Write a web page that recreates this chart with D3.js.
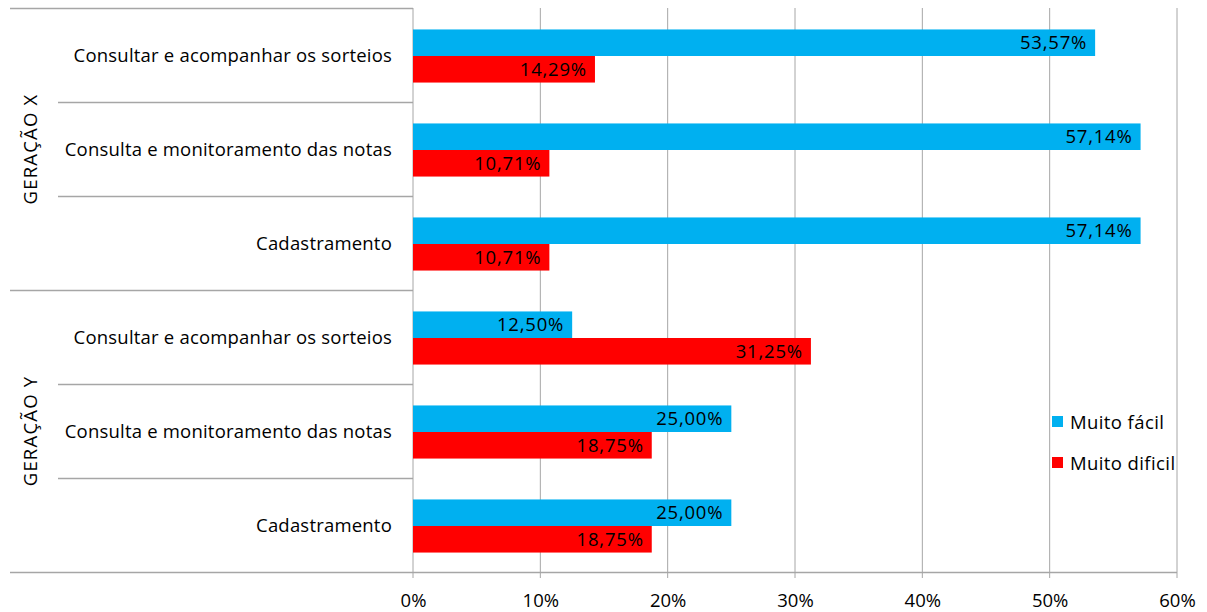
<!DOCTYPE html>
<html>
<head>
<meta charset="utf-8">
<script src="https://cdn.jsdelivr.net/npm/d3@7"></script>
<style>
  body { margin: 0; background: #fff; }
  text { font-family: "Open Sans", "Liberation Sans", sans-serif; fill: #000; }
</style>
</head>
<body>
<script>
const groups = ["GERAÇÃO X", "GERAÇÃO Y"];
const categories = [
  "Consultar e acompanhar os sorteios",
  "Consulta e monitoramento das notas",
  "Cadastramento"
];
const seriesNames = ["Muito fácil", "Muito dificil"];
const facil = [[53.57, 57.14, 57.14], [12.50, 25.00, 25.00]];
const dificil = [[14.29, 10.71, 10.71], [31.25, 18.75, 18.75]];
const ticks = [0, 10, 20, 30, 40, 50, 60];
const colors = ["#00b0f0", "#ff0000"];

const width = 1207, height = 612;
const margin = { top: 8, right: 30, bottom: 40, left: 413 };
const fontSize = "18.5px";

const rows = [];
groups.forEach((g, gi) => {
  categories.forEach((c, ci) => {
    rows.push({ key: gi + "-" + ci, group: g, gi, label: c, values: [facil[gi][ci], dificil[gi][ci]] });
  });
});

const svg = d3.create("svg")
  .attr("width", width)
  .attr("height", height);
document.body.appendChild(svg.node());

const x = d3.scaleLinear().domain([0, 60]).range([margin.left, 1177]);
const y = d3.scaleBand().domain(rows.map(d => d.key)).range([margin.top, 572]);
const inner = d3.scaleBand().domain([0, 1]).range([1, y.bandwidth() + 1]).paddingOuter(0.77).paddingInner(0);

// gridlines
svg.append("g")
  .selectAll("line")
  .data(ticks)
  .join("line")
  .attr("x1", d => x(d)).attr("x2", d => x(d))
  .attr("y1", margin.top).attr("y2", 578)
  .attr("stroke", "#a6a6a6").attr("stroke-width", 1);

// category separators
const seps = d3.range(rows.length + 1).map(i => ({
  y: margin.top + i * y.step(),
  long: i % categories.length === 0
}));
svg.append("g")
  .selectAll("line")
  .data(seps)
  .join("line")
  .attr("x1", d => d.long ? 10 : 58)
  .attr("x2", d => d.y === 572 ? 1177 : margin.left)
  .attr("y1", d => Math.round(d.y) + 0.5).attr("y2", d => Math.round(d.y) + 0.5)
  .attr("stroke", "#a6a6a6").attr("stroke-width", 1.3);

// bars
const row = svg.append("g")
  .selectAll("g")
  .data(rows)
  .join("g")
  .attr("transform", d => `translate(0,${y(d.key)})`);

row.selectAll("rect")
  .data(d => d.values)
  .join("rect")
  .attr("x", x(0))
  .attr("y", (d, i) => inner(i))
  .attr("width", d => x(d) - x(0))
  .attr("height", inner.bandwidth())
  .attr("fill", (d, i) => colors[i]);

row.selectAll("text.val")
  .data(d => d.values)
  .join("text")
  .attr("class", "val")
  .attr("x", d => x(d) - 8)
  .attr("y", (d, i) => inner(i) + inner.bandwidth() / 2)
  .attr("dy", "0.36em")
  .attr("text-anchor", "end")
  .style("font-size", fontSize)
  .style("letter-spacing", "0.8px")
  .text(d => d.toFixed(2).replace(".", ",") + "%");

// category labels
row.append("text")
  .attr("x", 392)
  .attr("y", y.bandwidth() / 2 - 0)
  .attr("dy", "0.36em")
  .attr("text-anchor", "end")
  .style("font-size", fontSize)
  .style("letter-spacing", "0.2px")
  .text(d => d.label);

// group labels
svg.append("g")
  .selectAll("text")
  .data(groups)
  .join("text")
  .attr("transform", (d, i) => {
    const cy = margin.top + (i + 0.5) * categories.length * y.step();
    return `translate(37,${cy}) rotate(-90)`;
  })
  .attr("text-anchor", "middle")
  .style("font-size", fontSize)
  .style("letter-spacing", "1.2px")
  .text(d => d);

// x axis
const axis = svg.append("g")
  .attr("transform", `translate(0,572)`)
  .call(d3.axisBottom(x).tickValues(ticks).tickSize(0).tickPadding(22).tickFormat(d => d + "%"));
axis.select(".domain").remove();
axis.selectAll("text")
  .style("font-family", "'Open Sans', 'Liberation Sans', sans-serif")
  .style("font-size", fontSize)
  .attr("fill", "#000");

// legend
const legend = svg.append("g")
  .selectAll("g")
  .data(seriesNames)
  .join("g")
  .attr("transform", (d, i) => `translate(1052,${416 + i * 41})`);
legend.append("rect")
  .attr("width", 11).attr("height", 11)
  .attr("fill", (d, i) => colors[i]);
legend.append("text")
  .attr("x", 18).attr("y", 6)
  .attr("dy", "0.36em")
  .style("font-size", fontSize)
  .style("letter-spacing", "0.4px")
  .text(d => d);
</script>
</body>
</html>
